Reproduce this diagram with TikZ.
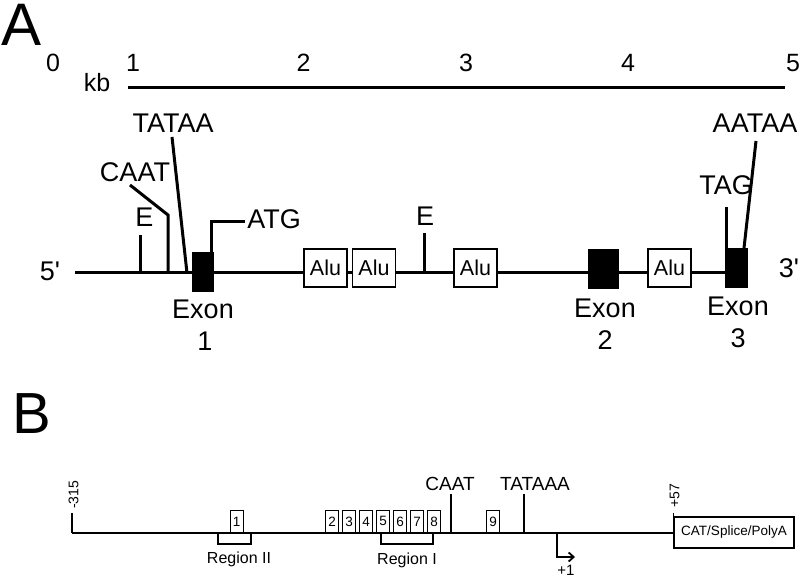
\documentclass[tikz,border=0pt]{standalone}
\usepackage{fontspec}
\setmainfont{Liberation Sans}
\usetikzlibrary{arrows.meta}
\newcommand{\fsz}[1]{\fontsize{#1}{#1}\selectfont}
\begin{document}
\begin{tikzpicture}[x=1pt,y=-1pt,
  txt/.style={inner sep=0pt, anchor=base},
  big/.style={txt, font=\fsz{60}},
  lab/.style={txt, font=\fsz{27}},
  scl/.style={txt, font=\fsz{25}},
  thick3/.style={line width=3pt},
  exonbox/.style={draw=black, fill=black, inner sep=0pt, minimum height=39pt},
  alubox/.style={draw=black, fill=white, line width=1.7pt, inner sep=0pt, minimum width=43pt, minimum height=38pt, font=\fsz{21.5}},
  thin/.style={line width=1.3pt},
  numbox/.style={draw=black, fill=white, line width=1.2pt, inner sep=0pt, minimum width=13pt, minimum height=22pt, anchor=south west, font=\fsz{13.5}},
  small/.style={txt, font=\fsz{16}},
  mid/.style={txt, font=\fsz{19}},
  rot/.style={inner sep=0pt, rotate=90, anchor=west, font=\fsz{14}}
]
\useasboundingbox (0,0) rectangle (800,577);

% ---------- Panel A ----------
\node[big] (A) at (21.5,46) {A};
\node[scl] (s0) at (53,72) {0};
\node[scl] (s1) at (133,72) {1};
\node[scl] (s2) at (303.5,72) {2};
\node[scl] (s3) at (466,72) {3};
\node[scl] (s4) at (628,72) {4};
\node[scl] (s5) at (793,72) {5};
\node[scl] (kb) at (97,92) {kb};
\coordinate (scaleL) at (128,88);
\coordinate (scaleR) at (785,88);
\draw[thick3] (scaleL) -- (scaleR);

\node[lab] (five) at (50,280) {5\textquotesingle};
\node[lab] (three) at (789,277) {3\textquotesingle};

\coordinate (lineL) at (75,273);
\node[exonbox, minimum width=22pt] (ex3) at (736,267.5) {};
\draw[thick3] (lineL) -- (ex3.west |- lineL);

\node[exonbox, minimum width=21pt] (ex1) at (202.5,271.5) {};
\node[exonbox, minimum width=30pt] (ex2) at (603,268.5) {};

\node[alubox] (alu1) at (325.5,268) {Alu};
\node[alubox] (alu2) at (374,268) {Alu};
\node[alubox] (alu3) at (475.5,268) {Alu};
\node[alubox] (alu4) at (669.5,268) {Alu};

% E sites
\coordinate (e1b) at (140,273);
\coordinate (e1t) at (140,235);
\draw[thick3] (e1b) -- (e1t);
\node[lab] (E1) at (144.5,227) {E};
\coordinate (e2b) at (424,273);
\coordinate (e2t) at (424,233);
\draw[thick3] (e2b) -- (e2t);
\node[lab] (E2) at (425,226) {E};

% CAAT
\node[lab] (caat) at (135,182) {CAAT};
\coordinate (caatA) at (130,185);
\coordinate (caatB) at (168,215);
\coordinate (caatC) at (168,273);
\draw[thick3, line join=miter] (caatA) -- (caatB) -- (caatC);

% TATAA
\node[lab] (tataa) at (173,133) {TATAA};
\coordinate (tataaA) at (172,137);
\coordinate (tataaB) at (187,273);
\draw[thick3] (tataaA) -- (tataaB);

% ATG
\node[lab] (atg) at (274,229) {ATG};
\coordinate (atgA) at (211,252);
\coordinate (atgB) at (211,222);
\coordinate (atgC) at (245,222);
\draw[thick3, line join=miter] (atgA) -- (atgB) -- (atgC);

% TAG
\node[lab] (tag) at (726,195) {TAG};
\coordinate (tagA) at (726,248);
\coordinate (tagB) at (726,207);
\draw[thick3] (tagA) -- (tagB);

% AATAA
\node[lab] (aataa) at (755,133) {AATAA};
\coordinate (aatA) at (756,141);
\coordinate (aatB) at (744,248);
\draw[thick3] (aatA) -- (aatB);

% Exon labels
\node[lab] (x1a) at (203,318) {Exon};
\node[lab] (x1b) at (205,350) {1};
\node[lab] (x2a) at (605,317) {Exon};
\node[lab] (x2b) at (605,349) {2};
\node[lab] (x3a) at (738,315) {Exon};
\node[lab] (x3b) at (738,347) {3};

% ---------- Panel B ----------
\node[big, font=\fsz{58}] (B) at (31.5,433) {B};
\coordinate (bL) at (72,533);
\coordinate (bR) at (674,533);
\draw[thin] (bL) -- (bR);
\coordinate (m315) at (72,513);
\draw[thin] (bL) -- (m315);
\node[rot] (t315) at (73.5,509) {-315};

% Region II bracket
\coordinate (r2a) at (218,533);
\coordinate (r2b) at (218,544);
\coordinate (r2c) at (251,544);
\coordinate (r2d) at (251,533);
\draw[thin] (r2a) -- (r2b) -- (r2c) -- (r2d);
\node[small] (reg2) at (239,563) {Region II};

% Region I bracket
\coordinate (r1a) at (381,533);
\coordinate (r1b) at (381,544);
\coordinate (r1c) at (433,544);
\coordinate (r1d) at (433,533);
\draw[thin] (r1a) -- (r1b) -- (r1c) -- (r1d);
\node[small] (reg1) at (407,564) {Region I};

% numbered boxes
\node[numbox] (n1) at (229.5,533) {1};
\node[numbox] (n2) at (325,533) {2};
\node[numbox] (n3) at (342,533) {3};
\node[numbox] (n4) at (359,533) {4};
\node[numbox] (n5) at (376,533) {5};
\node[numbox] (n6) at (393,533) {6};
\node[numbox] (n7) at (410,533) {7};
\node[numbox] (n8) at (427,533) {8};
\node[numbox] (n9) at (486,533) {9};

% CAAT / TATAAA
\coordinate (bcaatB) at (451,533);
\coordinate (bcaatT) at (451,494);
\draw[thin] (bcaatB) -- (bcaatT);
\node[mid] (bcaat) at (450,490) {CAAT};
\coordinate (btataB) at (524,533);
\coordinate (btataT) at (524,494);
\draw[thin] (btataB) -- (btataT);
\node[mid] (btata) at (535,490) {TATAAA};

% +1 arrow
\coordinate (p1a) at (557,533);
\coordinate (p1b) at (557,557);
\coordinate (p1c) at (575,557);
\draw[line width=1.8pt, line join=miter, -{Straight Barb[length=5pt,width=9pt,line width=1.8pt]}] (p1a) -- (p1b) -- (p1c);
\node[txt, font=\fsz{15}] (plus1) at (566,575) {+1};

% +57 and CAT box
\coordinate (p57b) at (673.5,533);
\coordinate (p57t) at (673.5,513);
\draw[thin] (p57b) -- (p57t);
\node[rot] (t57) at (674.5,508) {+57};
\node[draw=black, line width=2.2pt, inner sep=0pt, minimum width=120pt, minimum height=31pt, font=\fsz{13.5}] (cat) at (734,532.5) {CAT/Splice/PolyA};
\end{tikzpicture}
\end{document}
